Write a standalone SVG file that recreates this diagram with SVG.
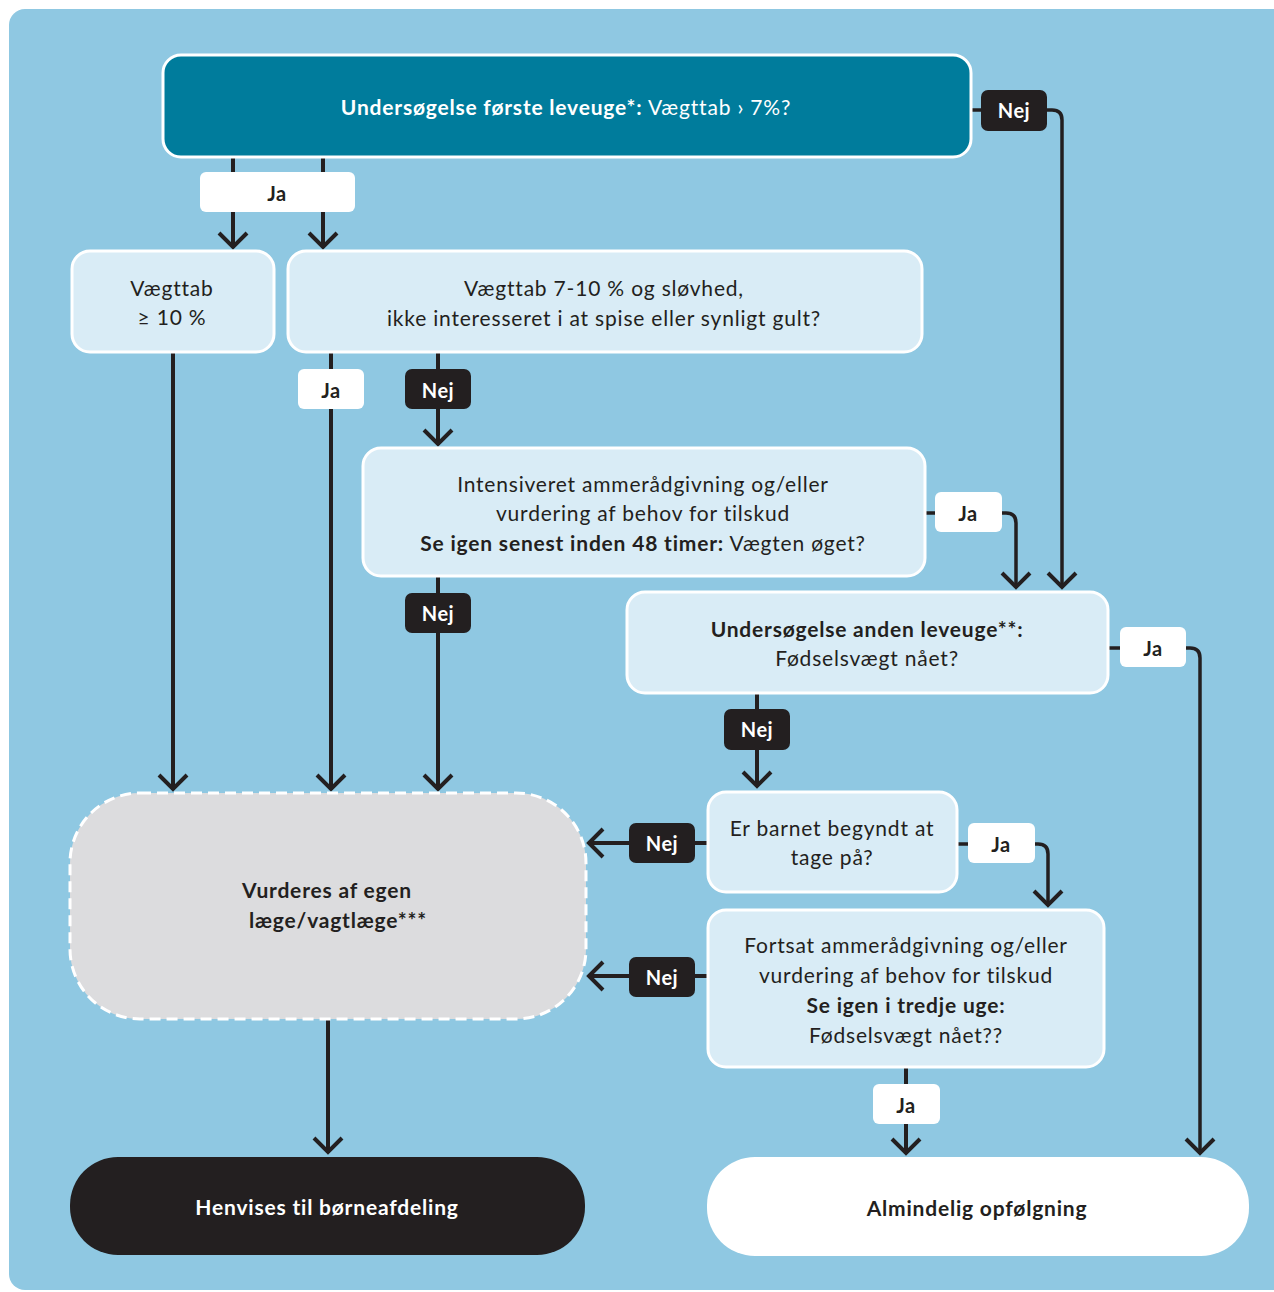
<svg xmlns="http://www.w3.org/2000/svg" width="1274" height="1292" viewBox="0 0 1274 1292">
<defs>
<style>
.box{fill:#d9ecf6;stroke:#ffffff;stroke-width:3}
.t{font-family:Lato,"Noto Sans","Liberation Sans",sans-serif;font-size:21px;letter-spacing:0.8px;fill:#231f20;text-anchor:middle}
.b{font-weight:bold}
.w{fill:#ffffff}
.ln{fill:none;stroke:#231f20;stroke-width:4}
.lt{fill:none;stroke:#231f20;stroke-width:3.5}
.ja{fill:#ffffff}
.nej{fill:#231f20}
.lbl{font-family:Lato,"Noto Sans","Liberation Sans",sans-serif;font-size:20px;letter-spacing:0.5px;font-weight:bold;text-anchor:middle}
</style>
<marker id="ah" markerUnits="userSpaceOnUse" markerWidth="40" markerHeight="40" viewBox="-20 -20 40 40" refX="0" refY="0" orient="auto">
<path d="M-15,-14 L-1,0 L-15,14" fill="none" stroke="#231f20" stroke-width="4"/>
</marker>
</defs>
<rect x="0" y="0" width="1274" height="1292" fill="#ffffff"/>
<rect x="9" y="9" width="1300" height="1281" rx="16" fill="#8fc8e2"/>

<g id="connectors">
<path class="ln" d="M233,157 V248" marker-end="url(#ah)"/>
<path class="ln" d="M323,157 V248" marker-end="url(#ah)"/>
<path class="lt" d="M971,110 H1052 Q1062,110 1062,120 V588" marker-end="url(#ah)"/>
<path class="ln" d="M173,352 V790" marker-end="url(#ah)"/>
<path class="ln" d="M331,352 V790" marker-end="url(#ah)"/>
<path class="ln" d="M438,352 V445" marker-end="url(#ah)"/>
<path class="ln" d="M438,576 V790" marker-end="url(#ah)"/>
<path class="lt" d="M925,513 H1006 Q1016,513 1016,523 V588" marker-end="url(#ah)"/>
<path class="lt" d="M1108,648 H1190 Q1200,648 1200,658 V1154" marker-end="url(#ah)"/>
<path class="ln" d="M757,693 V787" marker-end="url(#ah)"/>
<path class="lt" d="M957,844 H1038 Q1048,844 1048,854 V906" marker-end="url(#ah)"/>
<path class="ln" d="M708,843 H588" marker-end="url(#ah)"/>
<path class="ln" d="M708,976 H588" marker-end="url(#ah)"/>
<path class="ln" d="M906,1067 V1154" marker-end="url(#ah)"/>
<path class="ln" d="M328,1019 V1153" marker-end="url(#ah)"/>
</g>

<g id="label-ja-top"><rect class="ja" x="200" y="172" width="155" height="40" rx="6"/><text class="lbl" x="277" y="201" fill="#231f20">Ja</text></g>
<g id="label-nej-top"><rect class="nej" x="981" y="90" width="66" height="41" rx="7"/><text class="lbl" x="1014" y="118" fill="#ffffff">Nej</text></g>
<g id="label-ja-2"><rect class="ja" x="298" y="369" width="66" height="40" rx="6"/><text class="lbl" x="331" y="398" fill="#231f20">Ja</text></g>
<g id="label-nej-2"><rect class="nej" x="405" y="369" width="66" height="40" rx="7"/><text class="lbl" x="438" y="398" fill="#ffffff">Nej</text></g>
<g id="label-ja-3"><rect class="ja" x="935" y="492" width="67" height="40" rx="6"/><text class="lbl" x="968" y="521" fill="#231f20">Ja</text></g>
<g id="label-nej-3"><rect class="nej" x="405" y="593" width="66" height="40" rx="7"/><text class="lbl" x="438" y="621" fill="#ffffff">Nej</text></g>
<g id="label-ja-4"><rect class="ja" x="1120" y="627" width="66" height="40" rx="6"/><text class="lbl" x="1153" y="656" fill="#231f20">Ja</text></g>
<g id="label-nej-4"><rect class="nej" x="724" y="709" width="66" height="41" rx="7"/><text class="lbl" x="757" y="737" fill="#ffffff">Nej</text></g>
<g id="label-nej-5"><rect class="nej" x="629" y="823" width="66" height="40" rx="7"/><text class="lbl" x="662" y="851" fill="#ffffff">Nej</text></g>
<g id="label-ja-5"><rect class="ja" x="968" y="823" width="67" height="40" rx="6"/><text class="lbl" x="1001" y="852" fill="#231f20">Ja</text></g>
<g id="label-nej-6"><rect class="nej" x="629" y="957" width="66" height="40" rx="7"/><text class="lbl" x="662" y="985" fill="#ffffff">Nej</text></g>
<g id="label-ja-6"><rect class="ja" x="873" y="1084" width="67" height="40" rx="6"/><text class="lbl" x="906" y="1113" fill="#231f20">Ja</text></g>

<g id="node-top">
<rect x="163" y="55" width="808" height="102" rx="18" fill="#007c9c" stroke="#ffffff" stroke-width="3"/>
<text class="t w" x="566" y="115"><tspan class="b">Undersøgelse første leveuge*:</tspan> Vægttab › 7%?</text>
</g>
<g id="node-vaegttab10">
<rect class="box" x="72" y="251" width="202" height="101" rx="18"/>
<text class="t" x="172" y="296">Vægttab</text>
<text class="t" x="172" y="325">≥ 10 %</text>
</g>
<g id="node-vaegttab7">
<rect class="box" x="288" y="251" width="634" height="101" rx="18"/>
<text class="t" x="604" y="296">Vægttab 7-10 % og sløvhed,</text>
<text class="t" x="604" y="326">ikke interesseret i at spise eller synligt gult?</text>
</g>
<g id="node-intensiveret">
<rect class="box" x="363" y="448" width="562" height="128" rx="18"/>
<text class="t" x="643" y="492">Intensiveret ammerådgivning og/eller</text>
<text class="t" x="643" y="521">vurdering af behov for tilskud</text>
<text class="t" x="643" y="551"><tspan class="b">Se igen senest inden 48 timer:</tspan> Vægten øget?</text>
</g>
<g id="node-anden">
<rect class="box" x="627" y="592" width="481" height="101" rx="18"/>
<text class="t b" x="867" y="637">Undersøgelse anden leveuge**:</text>
<text class="t" x="867" y="666">Fødselsvægt nået?</text>
</g>
<g id="node-vurderes">
<rect x="70" y="793" width="516" height="226" rx="70" fill="#dcdcde" stroke="#ffffff" stroke-width="3" stroke-dasharray="11 6"/>
<text class="t b" x="327" y="898">Vurderes af egen</text>
<text class="t b" x="338" y="928">læge/vagtlæge***</text>
</g>
<g id="node-erbarnet">
<rect class="box" x="708" y="792" width="249" height="100" rx="18"/>
<text class="t" x="832" y="836">Er barnet begyndt at</text>
<text class="t" x="832" y="865">tage på?</text>
</g>
<g id="node-fortsat">
<rect class="box" x="708" y="910" width="396" height="157" rx="18"/>
<text class="t" x="906" y="953">Fortsat ammerådgivning og/eller</text>
<text class="t" x="906" y="983">vurdering af behov for tilskud</text>
<text class="t b" x="906" y="1013">Se igen i tredje uge:</text>
<text class="t" x="906" y="1043">Fødselsvægt nået??</text>
</g>
<g id="node-henvises">
<rect x="70" y="1157" width="515" height="98" rx="48" fill="#231f20"/>
<text class="t b w" x="327" y="1215">Henvises til børneafdeling</text>
</g>
<g id="node-almindelig">
<rect x="707" y="1157" width="542" height="99" rx="48" fill="#ffffff"/>
<text class="t b" x="977" y="1216">Almindelig opfølgning</text>
</g>
</svg>
